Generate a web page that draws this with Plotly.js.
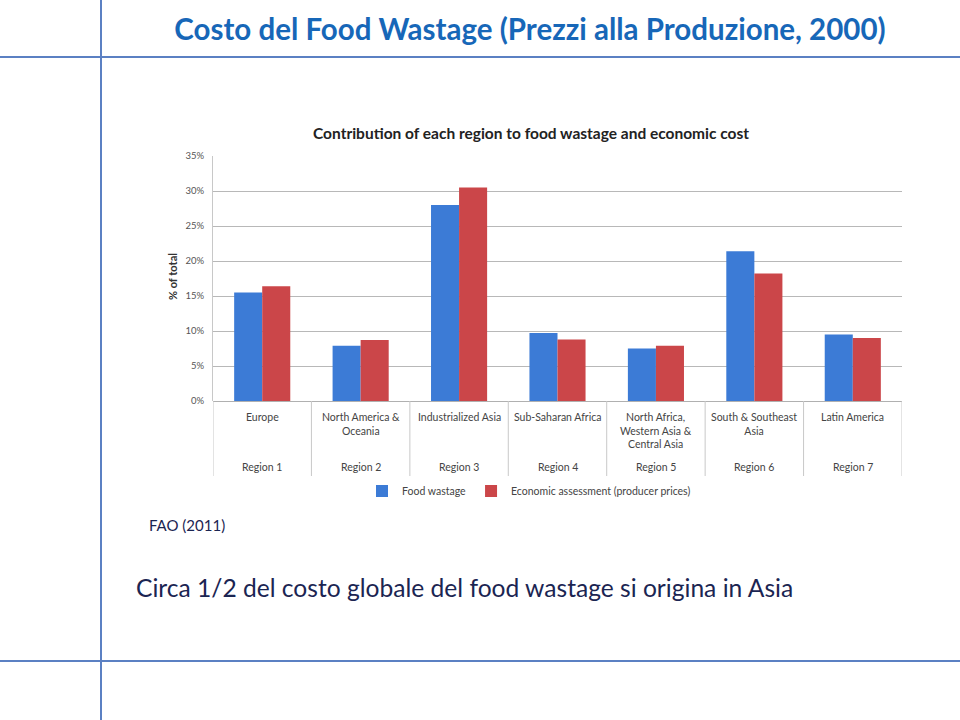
<!DOCTYPE html>
<html>
<head>
<meta charset="utf-8">
<script src="https://cdn.plot.ly/plotly-3.0.1.min.js"></script>
<style>html,body{margin:0;padding:0;background:#fff;}#chart{width:960px;height:720px;}</style>
</head>
<body>
<div id="chart"></div>
<script>
// ---- data ----
const categories = ["Europe", "North America &<br>Oceania", "Industrialized Asia", "Sub-Saharan Africa", "North Africa,<br>Western Asia &<br>Central Asia", "South & Southeast<br>Asia", "Latin America"];
const regionLabels = ["Region 1", "Region 2", "Region 3", "Region 4", "Region 5", "Region 6", "Region 7"];
const foodWastage = [15.5, 7.9, 28.0, 9.7, 7.5, 21.4, 9.5];
const economicCost = [16.4, 8.7, 30.5, 8.8, 7.9, 18.2, 9.0];
const seriesNames = ["Food wastage", "Economic assessment (producer prices)"];
const yTicks = [0, 5, 10, 15, 20, 25, 30, 35];

// ---- geometry helpers (plot area in px) ----
const W = 960, H = 720;
const L = 213, R = 902, T = 156, B = 401;
const px = x => (x - L) / (R - L);
const py = y => (B - y) / (B - T);

const idx = categories.map((_, i) => i);

const traces = [
  {type: 'bar', name: seriesNames[0], x: idx, y: foodWastage, marker: {color: '#3c7bd6'}, hoverinfo: 'y'},
  {type: 'bar', name: seriesNames[1], x: idx, y: economicCost, marker: {color: '#cb4649'}, hoverinfo: 'y'}
];

const chartFont = 'Lato, "Open Sans", sans-serif';
const gill = 'Lato, "Liberation Sans", sans-serif';

const annotations = [];
categories.forEach((c, i) => {
  annotations.push({x: i, y: py(409), xref: 'x', yref: 'paper', text: c, showarrow: false,
    yanchor: 'top', xanchor: 'center', font: {family: chartFont, size: 10.5, color: '#444'}, align: 'center'});
  annotations.push({x: i, y: py(467), xref: 'x', yref: 'paper', text: regionLabels[i], showarrow: false,
    yanchor: 'middle', xanchor: 'center', font: {family: chartFont, size: 10.5, color: '#444'}});
});
annotations.push({x: px(531), y: py(133), xref: 'paper', yref: 'paper', text: '<b>Contribution of each region to food wastage and economic cost</b>',
  showarrow: false, xanchor: 'center', yanchor: 'middle', font: {family: chartFont, size: 15.5, color: '#222'}});
annotations.push({x: px(172), y: py(277), xref: 'paper', yref: 'paper', text: '<b>% of total</b>', textangle: -90,
  showarrow: false, xanchor: 'center', yanchor: 'middle', font: {family: chartFont, size: 11, color: '#333'}});
annotations.push({x: px(147), y: py(525), xref: 'paper', yref: 'paper', text: 'FAO (2011)',
  showarrow: false, xanchor: 'left', yanchor: 'middle', font: {family: gill, size: 15, color: '#1b2552'}});
annotations.push({x: px(134), y: py(587), xref: 'paper', yref: 'paper', text: 'Circa 1/2 del costo globale del food wastage si origina in Asia',
  showarrow: false, xanchor: 'left', yanchor: 'middle', font: {family: gill, size: 24.6, color: '#1b2552'}});

const shapes = [];
// group separators below axis
for (let i = 0; i <= categories.length; i++) {
  shapes.push({type: 'line', xref: 'x', yref: 'paper', x0: i - 0.5, x1: i - 0.5, y0: 0, y1: py(476),
    line: {color: '#c8c8c8', width: 1}});
}
// slide decoration lines
const deco = '#5b80c3';
shapes.push({type: 'line', xref: 'paper', yref: 'paper', x0: px(101), x1: px(101), y0: py(0), y1: py(720), line: {color: deco, width: 2}});
shapes.push({type: 'line', xref: 'paper', yref: 'paper', x0: px(0), x1: px(960), y0: py(57), y1: py(57), line: {color: deco, width: 2}});
shapes.push({type: 'line', xref: 'paper', yref: 'paper', x0: px(0), x1: px(960), y0: py(661), y1: py(661), line: {color: deco, width: 2}});

const layout = {
  width: W, height: H,
  margin: {l: L, r: W - R, t: T, b: H - B},
  paper_bgcolor: '#fff', plot_bgcolor: '#fff',
  title: {text: '<b>Costo del Food Wastage (Prezzi alla Produzione, 2000)</b>', x: 530 / W, xanchor: 'center',
    y: 1 - 30 / H, yanchor: 'middle', xref: 'container', yref: 'container',
    font: {family: gill, size: 29.5, color: '#1767b8'}},
  barmode: 'group', bargap: 0.43, bargroupgap: 0,
  showlegend: true,
  legend: {orientation: 'h', x: px(362), y: py(491), xanchor: 'left', yanchor: 'middle',
    font: {family: chartFont, size: 10.5, color: '#444'}, itemwidth: 30, tracegroupgap: 0},
  xaxis: {range: [-0.5, categories.length - 0.5], showticklabels: false, ticks: '', showgrid: false,
    zeroline: false, showline: false, fixedrange: true},
  yaxis: {range: [0, 35], tickvals: yTicks, ticktext: yTicks.map(v => v + '%'), showgrid: true, gridcolor: '#b8b8b8',
    gridwidth: 1, zeroline: true, zerolinecolor: '#b0b0b0', showline: true, linecolor: '#c8c8c8', ticks: '',
    tickfont: {family: chartFont, size: 9.5, color: '#555'}, ticklabelstandoff: 6},
  annotations: annotations,
  shapes: shapes
};

Plotly.newPlot('chart', traces, layout, {displayModeBar: false, staticPlot: true});
</script>
</body>
</html>
